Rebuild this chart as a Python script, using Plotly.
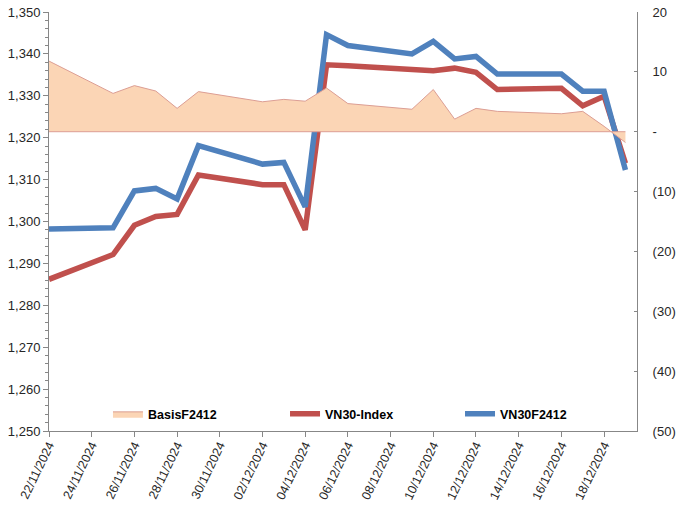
import plotly.graph_objects as go

dates = ["2024-11-22", "2024-11-25", "2024-11-26", "2024-11-27", "2024-11-28", "2024-11-29",
         "2024-12-02", "2024-12-03", "2024-12-04", "2024-12-05", "2024-12-06",
         "2024-12-09", "2024-12-10", "2024-12-11", "2024-12-12", "2024-12-13",
         "2024-12-16", "2024-12-17", "2024-12-18", "2024-12-19"]
vn30f2412 = [1298.2, 1298.5, 1307.3, 1307.9, 1305.4, 1318.1,
             1313.7, 1314.1, 1303.5, 1344.6, 1342.0,
             1340.0, 1343.0, 1338.8, 1339.4, 1335.2,
             1335.2, 1331.1, 1331.1, 1312.3]
vn30_index = [1286.2, 1292.1, 1299.1, 1301.2, 1301.7, 1311.1,
              1308.8, 1308.8, 1298.0, 1337.4, 1337.2,
              1336.3, 1336.0, 1336.6, 1335.6, 1331.5,
              1331.8, 1327.6, 1329.9, 1313.9]
basis = [11.8, 6.4, 7.7, 6.8, 3.9, 6.7,
         5.0, 5.4, 5.1, 7.3, 4.7,
         3.75, 7.05, 2.1, 3.9, 3.4,
         3.0, 3.4, 0.9, -1.8]
zero_line = [0 for _ in dates]

left_ticks = list(range(1250, 1351, 10))
right_vals = [-50, -40, -30, -20, -10, 0, 10, 20]
right_text = ["(50)", "(40)", "(30)", "(20)", "(10)", "-", "10", "20"]

FONT = "Liberation Sans, Arial, sans-serif"
AXIS_COL = "#878787"
TXT_COL = "#262626"

fig = go.Figure()
fig.add_trace(go.Scatter(x=dates, y=basis, name="BasisF2412", yaxis="y2", mode="lines",
                         fill="tozeroy", fillcolor="#FBD5B5",
                         line=dict(color="#DC9E94", width=1), legend="legend"))
fig.add_trace(go.Scatter(x=dates, y=zero_line, yaxis="y2", mode="lines", showlegend=False,
                         line=dict(color="#DC9E94", width=1), hoverinfo="skip"))
fig.add_trace(go.Scatter(x=dates, y=vn30_index, name="VN30-Index", mode="lines",
                         line=dict(color="#C0504D", width=5.5), legend="legend2"))
fig.add_trace(go.Scatter(x=dates, y=vn30f2412, name="VN30F2412", mode="lines",
                         line=dict(color="#4F81BD", width=5.5), legend="legend3"))

leg_common = dict(orientation="h", yanchor="middle", y=0.04, xanchor="left",
                  bgcolor="rgba(0,0,0,0)",
                  font=dict(family=FONT, size=12.5, color="#000000", weight="bold"))

fig.update_layout(
    width=677, height=505,
    margin=dict(l=49, r=40, t=12, b=74, autoexpand=False),
    paper_bgcolor="white", plot_bgcolor="white",
    font=dict(family=FONT, size=13, color=TXT_COL),
    legend=dict(x=0.1003, **leg_common),
    legend2=dict(x=0.4014, **leg_common),
    legend3=dict(x=0.699, **leg_common),
    xaxis=dict(type="date", range=["2024-11-22", "2024-12-19 13:00"], automargin=False,
               tick0="2024-11-22", dtick=2 * 86400000, tickformat="%d/%m/%Y",
               tickangle=-64, showgrid=False, showline=True, linecolor=AXIS_COL,
               linewidth=1, ticks="outside", ticklen=5, tickcolor=AXIS_COL,
               ticklabelstandoff=-4,
               tickfont=dict(size=12.5, color=TXT_COL), zeroline=False),
    yaxis=dict(range=[1250, 1350], tickvals=left_ticks, tickformat=",d", automargin=False,
               showgrid=False, showline=True, linecolor=AXIS_COL, linewidth=1,
               ticks="outside", ticklen=5, tickcolor=AXIS_COL, zeroline=False,
               minor=dict(dtick=2, ticks="outside", ticklen=3, tickcolor=AXIS_COL, showgrid=False),
               tickfont=dict(size=13, color=TXT_COL)),
    yaxis2=dict(range=[-50, 20], overlaying="y", side="right", tickvals=right_vals, automargin=False,
                ticktext=right_text, showgrid=False, showline=True, linecolor=AXIS_COL,
                linewidth=1, ticks="inside", ticklen=3, tickcolor=AXIS_COL, zeroline=False,
                ticklabelstandoff=12, tickfont=dict(size=13, color=TXT_COL)),
    showlegend=True,
)

fig.write_html("out.html", config={"displayModeBar": False},
               post_script="document.body.style.margin='0';document.body.style.overflow='hidden';")
